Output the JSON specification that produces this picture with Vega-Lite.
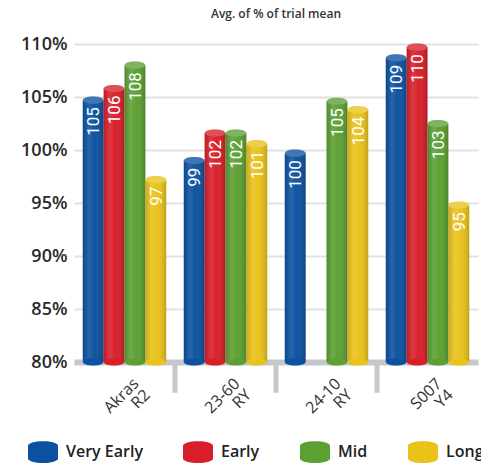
{
  "$schema": "https://vega.github.io/schema/vega-lite/v6.json",
  "width": 404,
  "height": 318,
  "autosize": {"type": "none"},
  "padding": {"left": 74, "top": 44, "right": 3, "bottom": 103},
  "background": "white",
  "title": {"text": "Avg. of % of trial mean", "anchor": "middle", "fontSize": 12, "fontWeight": 600, "font": "Open Sans", "color": "#333333", "offset": 14},
  "config": {
    "view": {"stroke": null},
    "font": "Open Sans"
  },
  "datasets": {
    "bars": [
      {"group": "Akras R2", "period": "Very Early", "value": 104.7},
      {"group": "Akras R2", "period": "Early", "value": 105.8},
      {"group": "Akras R2", "period": "Mid", "value": 108.0},
      {"group": "Akras R2", "period": "Long", "value": 97.2},
      {"group": "23-60 RY", "period": "Very Early", "value": 99.0},
      {"group": "23-60 RY", "period": "Early", "value": 101.6},
      {"group": "23-60 RY", "period": "Mid", "value": 101.6},
      {"group": "23-60 RY", "period": "Long", "value": 100.6},
      {"group": "24-10 RY", "period": "Very Early", "value": 99.7},
      {"group": "24-10 RY", "period": "Mid", "value": 104.6},
      {"group": "24-10 RY", "period": "Long", "value": 103.8},
      {"group": "S007 Y4", "period": "Very Early", "value": 108.7},
      {"group": "S007 Y4", "period": "Early", "value": 109.7},
      {"group": "S007 Y4", "period": "Mid", "value": 102.5},
      {"group": "S007 Y4", "period": "Long", "value": 94.8}
    ],
    "separators": [
      {"group": "23-60 RY", "top": 80, "bottom": 77.1},
      {"group": "24-10 RY", "top": 80, "bottom": 77.1},
      {"group": "S007 Y4", "top": 80, "bottom": 77.1}
    ]
  },
  "data": {"name": "bars"},
  "encoding": {
    "x": {
      "field": "group", "type": "nominal", "sort": null, "title": null,
      "scale": {"domain": ["Akras R2", "23-60 RY", "24-10 RY", "S007 Y4"], "paddingInner": 0, "paddingOuter": 0},
      "axis": {
        "labelAngle": -45, "labelAlign": "right", "labelBaseline": "top",
        "labelExpr": "split(datum.label, ' ')",
        "labelFontSize": 16, "labelColor": "#333333", "labelFont": "Open Sans", "labelPadding": 13, "labelOffset": 6, "labelLineHeight": 16,
        "domainColor": "#c4c8ca", "domainWidth": 6,
        "ticks": false
      }
    },
    "y": {
      "field": "value", "type": "quantitative", "title": null,
      "scale": {"domain": [80, 110], "zero": false, "nice": false},
      "axis": {
        "values": [80, 85, 90, 95, 100, 105, 110],
        "labelExpr": "datum.value + '%'",
        "labelFontSize": 18, "labelFontWeight": 600, "labelColor": "#2a2a2a", "labelFont": "Open Sans", "labelPadding": 7,
        "domain": false, "ticks": false,
        "gridColor": "#e2e2e2", "gridWidth": 2
      }
    }
  },
  "layer": [
    {
      "data": {"name": "separators"},
      "mark": {"type": "rule", "color": "#c4c8ca", "strokeWidth": 5},
      "encoding": {
        "x": {"field": "group", "type": "nominal", "bandPosition": 0},
        "y": {"field": "top", "type": "quantitative"},
        "y2": {"field": "bottom"}
      }
    },
    {
      "mark": {"type": "bar"},
      "encoding": {
        "xOffset": {"field": "period", "type": "nominal", "sort": null, "scale": {"domain": ["Very Early", "Early", "Mid", "Long"], "paddingInner": 0, "paddingOuter": 0.42}},
        "y2": {"datum": 80},
        "color": {
          "field": "period", "type": "nominal",
          "scale": {"domain": ["Very Early", "Early", "Mid", "Long"], "range": ["#0b519f", "#d81e28", "#5c9f32", "#e9c21a"]},
          "legend": {
            "orient": "none", "legendX": -46, "legendY": 393, "direction": "horizontal", "title": null,
            "symbolType": "M-1,-0.42 A1,0.3 0 0,1 1,-0.42 L1,0.42 A1,0.3 0 0,1 -1,0.42 Z",
            "symbolSize": 900, "symbolStrokeWidth": 0, "symbolOpacity": 1,
            "labelFontSize": 16, "labelFontWeight": 600, "labelColor": "#222222", "labelFont": "Open Sans",
            "labelOffset": 8, "columnPadding": 40
          }
        }
      }
    },
    {
      "mark": {
        "type": "bar",
        "color": {"gradient": "linear", "x1": 0, "x2": 1, "y1": 0, "y2": 0,
          "stops": [
            {"offset": 0, "color": "rgba(0,0,0,0.12)"},
            {"offset": 0.3, "color": "rgba(255,255,255,0.12)"},
            {"offset": 0.55, "color": "rgba(255,255,255,0.02)"},
            {"offset": 1, "color": "rgba(0,0,0,0.18)"}
          ]}
      },
      "encoding": {
        "xOffset": {"field": "period", "type": "nominal", "sort": null},
        "y2": {"datum": 80}
      }
    },
    {
      "mark": {"type": "point", "filled": true, "opacity": 1, "strokeWidth": 0, "size": 425,
        "shape": "M-1,0 A1,0.35 0 1,1 1,0 A1,0.35 0 1,1 -1,0 Z"},
      "encoding": {
        "xOffset": {"field": "period", "type": "nominal", "sort": null},
        "y": {"datum": 80},
        "color": {"field": "period", "type": "nominal"}
      }
    },
    {
      "mark": {"type": "point", "filled": true, "opacity": 1, "strokeWidth": 0, "size": 425,
        "shape": "M-1,0 A1,0.35 0 1,1 1,0 A1,0.35 0 1,1 -1,0 Z"},
      "encoding": {
        "xOffset": {"field": "period", "type": "nominal", "sort": null},
        "color": {"field": "period", "type": "nominal"}
      }
    },
    {
      "mark": {"type": "point", "filled": true, "opacity": 0.22, "strokeWidth": 0, "size": 425, "color": "white",
        "shape": "M-1,0 A1,0.35 0 1,1 1,0 A1,0.35 0 1,1 -1,0 Z"},
      "encoding": {
        "xOffset": {"field": "period", "type": "nominal", "sort": null}
      }
    },
    {
      "mark": {"type": "text", "angle": 270, "align": "right", "baseline": "middle", "dx": -7, "dy": 1,
        "color": "white", "fontSize": 17, "font": "Liberation Sans Narrow, Roboto, sans-serif"},
      "encoding": {
        "xOffset": {"field": "period", "type": "nominal", "sort": null},
        "text": {"field": "value", "type": "quantitative", "format": ".0f"}
      }
    }
  ]
}
